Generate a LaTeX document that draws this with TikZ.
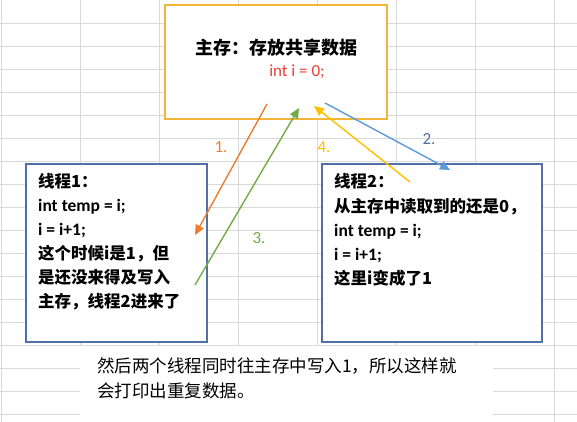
\documentclass[tikz,border=0pt]{standalone}
\usepackage{fontspec}
\usepackage{tikz}
\usetikzlibrary{arrows.meta,positioning}
\newfontfamily\cjk{Noto Sans CJK SC}
\newfontfamily\lat{Carlito}
\definecolor{gridgray}{HTML}{D9D9D9}
\definecolor{memgold}{HTML}{F2B53A}
\definecolor{thrblue}{HTML}{5270A8}
\definecolor{arrorange}{HTML}{ED7D31}
\definecolor{arrblue}{HTML}{5B9BD5}
\definecolor{arrgreen}{HTML}{70AD47}
\definecolor{arryellow}{HTML}{FFC000}
\definecolor{codered}{HTML}{E8403A}

\begin{document}
\begin{tikzpicture}[x=1pt,y=-1pt,
    gridline/.style={draw=gridgray, line width=0.8pt},
    membox/.style={draw=memgold, line width=2pt, fill=white, minimum width=222pt, minimum height=114pt, inner sep=0pt},
    threadbox/.style={draw=thrblue, line width=2pt, fill=white, minimum height=178pt, inner sep=0pt},
    thrtext/.style={anchor=north west, inner sep=0pt, align=left, font=\fontsize{16.5}{24}\selectfont},
    stepline/.style={line width=1.4pt, -{Triangle[length=10pt,width=9pt]}},
    steplabel/.style={inner sep=1pt, font=\lat\fontsize{17}{20}\selectfont}]
  \useasboundingbox (0,0) rectangle (577,422);

  % spreadsheet grid
  \foreach \x in {1,80,...,560}
    \draw[gridline] (\x,0) -- (\x,422);
  \foreach \y in {23,46,...,414}
    \draw[gridline] (0,\y) -- (577,\y);

  % boxes
  \node[membox] (main) at (276,62) {};
  \node[threadbox, minimum width=181pt] (t1) at (116.5,253) {};
  \node[threadbox, minimum width=220pt] (t2) at (432,253) {};
  \node[fill=white, minimum width=413pt, minimum height=76pt, inner sep=0pt] (note) at (286.5,384) {};

  % main memory text
  \node[inner sep=0pt, font=\cjk\bfseries\fontsize{18}{20}\selectfont] (title) at (276,48) {主存：存放共享数据};
  \node[inner sep=0pt, text=codered, font=\lat\fontsize{17}{20}\selectfont] (initval) at (297,72) {int i = 0;};

  % thread texts
  \node[thrtext] (t1text) at ([shift={(13,10)}]t1.north west)
    {{\cjk\bfseries 线程1：}\\
     {\lat\bfseries\fontsize{17.5}{24}\selectfont int temp = i;}\\
     {\lat\bfseries\fontsize{17.5}{24}\selectfont i = i+1;}\\
     {\cjk\bfseries 这个时候i是1，但}\\
     {\cjk\bfseries 是还没来得及写入}\\
     {\cjk\bfseries 主存，线程2进来了}};
  \node[thrtext] (t2text) at ([shift={(13,10)}]t2.north west)
    {{\cjk\bfseries 线程2：}\\[1.5pt]
     {\cjk\bfseries 从主存中读取到的还是0，}\\
     {\lat\bfseries\fontsize{17.5}{24}\selectfont int temp = i;}\\
     {\lat\bfseries\fontsize{17.5}{24}\selectfont i = i+1;}\\
     {\cjk\bfseries 这里i变成了1}};

  % bottom note
  \node[anchor=north west, inner sep=0pt, align=left, font=\cjk\fontsize{17.5}{25}\selectfont] (notetext) at ([shift={(17,12)}]note.north west)
    {然后两个线程同时往主存中写入1，所以这样就\\会打印出重复数据。};

  % arrows
  \coordinate (s1) at (267,104);
  \coordinate (e1) at (195,235);
  \coordinate (s2) at (325,103);
  \coordinate (e2) at (450,170);
  \coordinate (s3) at (195,285);
  \coordinate (e3) at (299,108);
  \coordinate (s4) at (410,182);
  \coordinate (e4) at (314,106);
  \draw[stepline, arrorange] (s1) -- (e1);
  \draw[stepline, arrblue] (s2) -- (e2);
  \draw[stepline, arrgreen] (s3) -- (e3);
  \draw[stepline, arryellow] (s4) -- (e4);

  \node[steplabel, text=arrorange] (l1) at (221,147) {1.};
  \node[steplabel, text=thrblue] (l2) at (429,139) {2.};
  \node[steplabel, text=arrgreen] (l3) at (259,238) {3.};
  \node[steplabel, text=arryellow] (l4) at (324,147) {4.};
\end{tikzpicture}
\end{document}
